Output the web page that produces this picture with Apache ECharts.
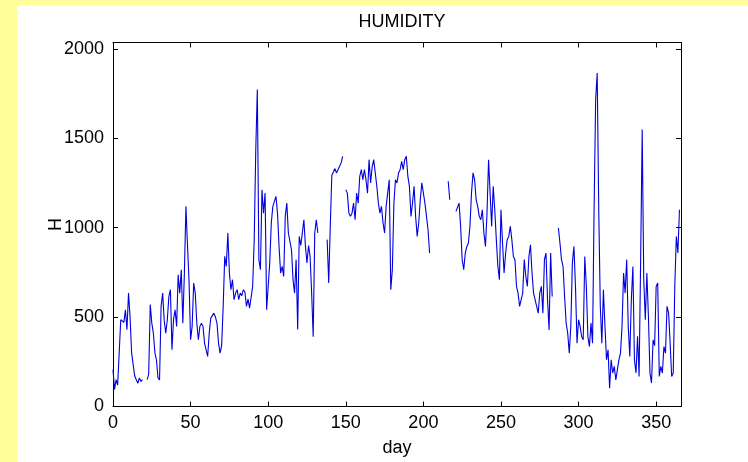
<!DOCTYPE html>
<html>
<head>
<meta charset="utf-8">
<script src="https://cdn.jsdelivr.net/npm/echarts@6/dist/echarts.min.js"></script>
<style>
html,body{margin:0;padding:0;background:#ffffff;}
#c{width:748px;height:462px;}
</style>
</head>
<body>
<div id="c"></div>
<script>
const titleText = 'HUMIDITY';
const xName = 'day';
const yName = 'H';
const xRange = [0, 366];
const yRange = [0, 2035];
const xTickStep = 50;
const yTickStep = 500;
// daily humidity values, day 0 .. 365 (null = missing)
const humidity = [
  205, 95, 150, 120, 300, 485, 475, 470, 540, 430,
  634, 500, 300, 290, 170, 150, 130, 160, 140, 150,
  null, null, 150, 180, 570, 466, 410, 300, 260, 160,
  148, 560, 634, 480, 410, 485, 615, 653, 317, 485,
  541, 448, 736, 634, 765, 466, 746, 1119, 900, 700,
  373, 448, 690, 634, 466, 373, 448, 466, 448, 354,
  317, 280, 410, 494, 504, 522, 500, 466, 354, 298,
  340, 560, 840, 783, 970, 746, 653, 709, 597, 634,
  653, 597, 634, 620, 653, 640, 560, 600, 550, 560,
  672, 933, 1437, 1772, 821, 765, 1212, 1081, 1193, 541,
  672, 802, 1026, 1119, 1119, 1175, 1081, 895, 746, 783,
  727, 1063, 1137, 970, 979, 877, 709, 634, 821, 430,
  951, 900, 970, 1044, 895, 802, 900, 839, 634, 390,
  970, 1044, 970, null, null, null, null, null, 933, 690,
  1007, 1293, 1311, 1330, 1306, 1324, 1343, 1362, 1399, null,
  1212, 1193, 1081, 1063, 1081, 1137, 1044, 1193, 1137, 1287,
  1324, 1268, 1324, 1268, 1193, 1380, 1250, 1340, 1380, 1380,
  1231, 1137, 1081, 1119, 1026, 970, 1119, 1193, 1268, 653,
  765, 1137, 1268, 1250, 1306, 1324, 1371, 1324, 1380, 1399,
  1287, 1231, 1063, 1137, 1231, 1063, 951, 1026, 1156, 1250,
  1193, 1137, 1063, 988, 858, null, null, null, null, null,
  null, null, null, null, null, null, 1259, 1156, null, null,
  null, 1091, 1081, 1137, 1007, 821, 765, 858, 895, 914,
  1007, 1193, 1306, 1268, 1156, 1119, 1063, 1044, 1100, 970,
  895, 1081, 1380, 1193, 1007, 1231, 1100, 933, 783, 709,
  1100, 914, 746, 858, 933, 951, 1007, 933, 839, 821,
  672, 634, 560, 597, 634, 821, 727, 672, 839, 904,
  746, 634, 640, 560, 522, 634, 672, 522, 821, 858,
  597, 428, 858, 615, null, null, null, 998, 914, 821,
  783, 615, 466, 410, 298, 448, 802, 895, 672, 354,
  485, 448, 390, 373, 839, 672, 390, 335, 466, 354,
  1100, 1716, 1865, 1100, 560, 354, 653, 448, 261, 317,
  102, 261, 187, 224, 149, 205, 261, 298, 448, 746,
  634, 821, 448, 280, 597, 783, 261, 187, 392, 168,
  821, 1549, 709, 485, 746, 504, 187, 131, 373, 340,
  672, 690, 168, 224, 187, 335, 298, 560, 522, 354,
  168, 187, 672, 951, 858, 1100
];

const FONT = '"Liberation Sans", Arial, Helvetica, sans-serif';
const FS = 18;
const chart = echarts.init(document.getElementById('c'), null, {renderer: 'canvas'});

const lineStyle = {color: '#000000', width: 1};
function plain(v) { return String(v); }
function xAxisDef(pos, withLabels) {
  return {
    type: 'value', position: pos, min: xRange[0], max: xRange[1], interval: xTickStep,
    axisLine: {show: true, onZero: false, lineStyle: lineStyle},
    axisTick: {show: true, inside: true, length: 5, lineStyle: lineStyle},
    axisLabel: {show: withLabels, showMaxLabel: false, margin: 8, fontSize: FS, fontFamily: FONT, color: '#000', formatter: plain},
    splitLine: {show: false},
    name: withLabels ? xName : '', nameLocation: 'middle', nameGap: 33, nameMoveOverlap: false,
    nameTextStyle: {fontSize: FS, fontFamily: FONT, color: '#000'}
  };
}
function yAxisDef(pos, withLabels) {
  return {
    type: 'value', position: pos, min: yRange[0], max: yRange[1], interval: yTickStep,
    axisLine: {show: true, onZero: false, lineStyle: lineStyle},
    axisTick: {show: true, inside: true, length: 5, lineStyle: lineStyle},
    axisLabel: {show: withLabels, showMaxLabel: false, margin: 9, fontSize: FS, fontFamily: FONT, color: '#000', formatter: plain},
    splitLine: {show: false},
    name: withLabels ? yName : '', nameLocation: 'middle', nameGap: 48, nameRotate: 90, nameMoveOverlap: false,
    nameTextStyle: {fontSize: FS, fontFamily: FONT, color: '#000'}
  };
}

chart.setOption({
  animation: false,
  backgroundColor: '#ffffff',
  title: {
    text: titleText, left: 397, top: 8, textAlign: 'center',
    textStyle: {fontSize: FS, fontWeight: 'normal', fontFamily: FONT, color: '#000'}
  },
  graphic: [
    {type: 'rect', silent: true, z: -100, shape: {x: 0, y: 0, width: 17, height: 462}, style: {fill: '#ffff99'}},
    {type: 'rect', silent: true, z: -100, shape: {x: 0, y: 0, width: 748, height: 5}, style: {fill: '#ffff99'}}
  ],
  grid: {left: 113, right: 67, top: 42.5, bottom: 55.5, containLabel: false, outerBoundsMode: 'none'},
  xAxis: [xAxisDef('bottom', true), xAxisDef('top', false)],
  yAxis: [yAxisDef('left', true), yAxisDef('right', false)],
  series: [{
    type: 'line', xAxisIndex: 0, yAxisIndex: 0,
    data: humidity.map((v, i) => [i, v === null ? '-' : v]),
    showSymbol: false, symbol: 'none', connectNulls: false,
    lineStyle: {color: '#0000dd', width: 1.1},
    itemStyle: {color: '#0000dd'}
  }]
});
</script>
</body>
</html>
